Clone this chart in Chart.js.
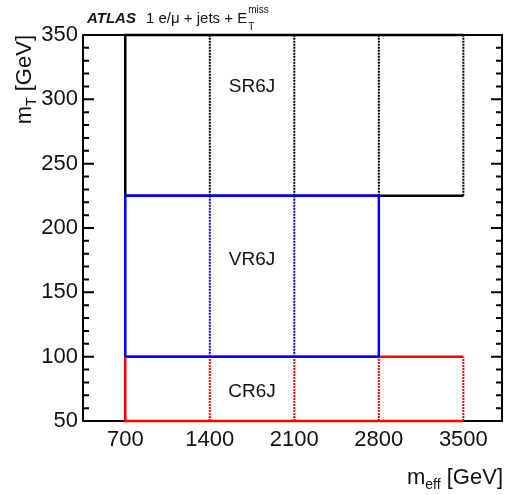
<!DOCTYPE html>
<html>
<head>
<meta charset="utf-8">
<script src="https://cdn.jsdelivr.net/npm/chart.js@4.4.1/dist/chart.umd.min.js"></script>
<style>
  html, body { margin: 0; padding: 0; background: #fff; }
  #wrap { width: 508px; height: 495px; position: relative; }
</style>
</head>
<body>
<div id="wrap"><canvas id="regions"></canvas></div>
<script>
// bin edges in m_eff and m_T bands of the three regions
var mEffEdges = [700, 1400, 2100, 2800, 3500];
var vrMEffMax = 2800;
var srMt = [225, 350];
var vrMt = [100, 225];
var crMt = [50, 100];
var mtTicks = [50, 100, 150, 200, 250, 300, 350];

// region labels and where they sit (data units)
var regionNames = ['SR6J', 'VR6J', 'CR6J'];
var labelMEff = [1750, 1750, 1750];
var labelMt = [310, 175, 73];

var FONT = '"Liberation Sans", Arial, Helvetica, sans-serif';

// vertical dotted separators between the m_eff bins, broken with nulls
function dividers(edges, lo, hi) {
    var pts = [];
    edges.forEach(function(x) {
        pts.push({x: x, y: lo}, {x: x, y: hi}, {x: x, y: null});
    });
    return pts;
}

function seg(color, pts, dotted, order) {
    return {
        data: pts,
        showLine: true,
        borderColor: color,
        borderWidth: dotted ? 2 : 2.5,
        borderDash: dotted ? [2, 1] : [],
        pointRadius: 0,
        spanGaps: false,
        clip: false,
        tension: 0,
        order: order   // higher order is drawn first
    };
}

var first = mEffEdges[0], last = mEffEdges[mEffEdges.length - 1];

var datasets = [
    // SR (black), bottom layer
    seg('#000', [{x: last, y: srMt[1]}, {x: first, y: srMt[1]}, {x: first, y: srMt[0]}, {x: last, y: srMt[0]}], false, 3),
    seg('#000', dividers(mEffEdges.slice(1), srMt[0], srMt[1]), true, 3),
    // CR (red)
    seg('#ff0000', [{x: last, y: crMt[1]}, {x: first, y: crMt[1]}, {x: first, y: crMt[0]}, {x: last, y: crMt[0]}], false, 2),
    seg('#ff0000', dividers(mEffEdges.slice(1), crMt[0], crMt[1]), true, 2),
    // VR (blue), on top
    seg('#0000ff', dividers(mEffEdges.filter(function(x) { return x > first && x < vrMEffMax; }), vrMt[0], vrMt[1]), true, 1),
    seg('#0000ff', [{x: first, y: vrMt[0]}, {x: vrMEffMax, y: vrMt[0]}, {x: vrMEffMax, y: vrMt[1]}, {x: first, y: vrMt[1]}, {x: first, y: vrMt[0]}], false, 0)
];

// frame, inward ticks on both y sides
var framePlugin = {
    id: 'frame',
    beforeDatasetsDraw: function(chart) {
        var ctx = chart.ctx, a = chart.chartArea, ys = chart.scales.y;
        ctx.save();
        ctx.strokeStyle = '#000';
        ctx.lineWidth = 2;
        ctx.strokeRect(a.left, a.top, a.right - a.left, a.bottom - a.top);
        for (var v = mtTicks[0]; v <= mtTicks[mtTicks.length - 1]; v += 10) {
            var py = ys.getPixelForValue(v);
            var len = (v % 50 === 0) ? 11 : 6;
            ctx.beginPath();
            ctx.moveTo(a.left, py); ctx.lineTo(a.left + len, py);
            ctx.moveTo(a.right, py); ctx.lineTo(a.right - len, py);
            ctx.stroke();
        }
        ctx.restore();
    },
    afterDatasetsDraw: function(chart) {
        var ctx = chart.ctx, xs = chart.scales.x, ys = chart.scales.y;
        ctx.save();
        ctx.fillStyle = '#111';
        ctx.font = '19px ' + FONT;
        ctx.textAlign = 'center';
        ctx.textBaseline = 'middle';
        regionNames.forEach(function(n, i) {
            ctx.fillText(n, xs.getPixelForValue(labelMEff[i]), ys.getPixelForValue(labelMt[i]));
        });
        ctx.restore();
    },
    afterDraw: function(chart) {
        var ctx = chart.ctx;
        ctx.save();
        ctx.fillStyle = '#111';
        ctx.textBaseline = 'alphabetic';
        ctx.textAlign = 'left';
        // ATLAS header
        ctx.font = 'italic bold 15px ' + FONT;
        ctx.fillText('ATLAS', 87, 23);
        ctx.font = '15px ' + FONT;
        var s = '1 e/\u03bc + jets + E';
        ctx.fillText(s, 146, 23);
        var ex = 146 + ctx.measureText(s).width + 1;
        ctx.font = '10px ' + FONT;
        ctx.fillText('miss', ex, 13);
        ctx.fillText('T', ex, 30);

        // x title
        var parts = [['m', 22, 0], ['eff', 14, 5], [' [GeV]', 22, 0]];
        var w = 0;
        parts.forEach(function(p) { ctx.font = p[1] + 'px ' + FONT; w += ctx.measureText(p[0]).width; });
        var x = 503 - w;
        parts.forEach(function(p) {
            ctx.font = p[1] + 'px ' + FONT;
            ctx.fillText(p[0], x, 484 + p[2]);
            x += ctx.measureText(p[0]).width;
        });

        // y title, rotated
        var yparts = [['m', 22, 0], ['T', 14, 5], [' [GeV]', 22, 0]];
        w = 0;
        yparts.forEach(function(p) { ctx.font = p[1] + 'px ' + FONT; w += ctx.measureText(p[0]).width; });
        ctx.translate(31, 35);
        ctx.rotate(-Math.PI / 2);
        x = -w;
        yparts.forEach(function(p) {
            ctx.font = p[1] + 'px ' + FONT;
            ctx.fillText(p[0], x, p[2]);
            x += ctx.measureText(p[0]).width;
        });
        ctx.restore();
    }
};

var chart = new Chart(document.getElementById('regions'), {
    type: 'scatter',
    data: { datasets: datasets },
    options: {
        responsive: true,
        maintainAspectRatio: false,
        animation: false,
        events: [],
        layout: { padding: { top: 35, right: 6, left: 0, bottom: 0 } },
        plugins: { legend: { display: false }, tooltip: { enabled: false } },
        scales: {
            x: {
                type: 'linear',
                min: 350,
                max: 3820,
                afterBuildTicks: function(scale) {
                    scale.ticks = mEffEdges.map(function(v) { return {value: v}; });
                },
                afterFit: function(scale) { scale.height = 74; },
                grid: { display: false, drawTicks: false, tickLength: 0 },
                border: { display: false },
                ticks: {
                    autoSkip: false,
                    maxRotation: 0,
                    padding: 6,
                    color: '#111',
                    font: { family: FONT, size: 22 },
                    callback: function(v) { return String(v); }
                }
            },
            y: {
                type: 'linear',
                min: 50,
                max: 350,
                afterBuildTicks: function(scale) {
                    scale.ticks = mtTicks.map(function(v) { return {value: v}; });
                },
                afterFit: function(scale) { scale.width = 83; },
                grid: { display: false, drawTicks: false, tickLength: 0 },
                border: { display: false },
                ticks: {
                    padding: 5,
                    color: '#111',
                    font: { family: FONT, size: 22 },
                    callback: function(v) { return String(v); }
                }
            }
        }
    },
    plugins: [framePlugin]
});
</script>
</body>
</html>
